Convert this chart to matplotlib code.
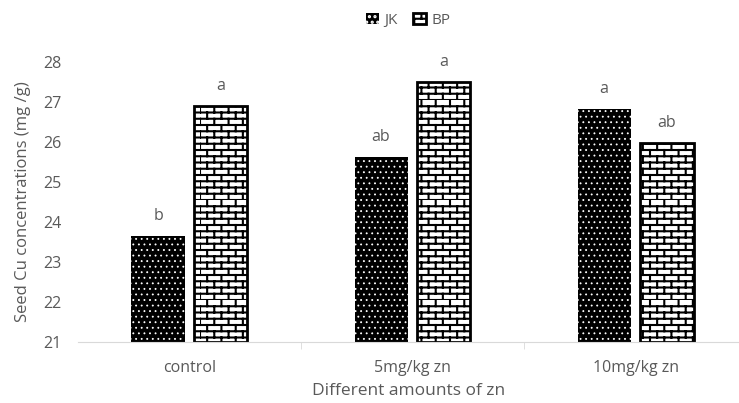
import numpy as np
import matplotlib
matplotlib.use('Agg')
import matplotlib.pyplot as plt
import matplotlib.hatch as mhatch
from matplotlib.path import Path

groups = ['control', '5mg/kg zn', '10mg/kg zn']
jk = [23.65, 25.62, 26.83]
bp = [26.9, 27.5, 25.97]
jk_letters = ['b', 'ab', 'a']
bp_letters = ['a', 'a', 'ab']
yticks = [21, 22, 23, 24, 25, 26, 27, 28]


# brick hatch, hooked onto the 'O' character (replaces the big circles)
class BrickHatch(mhatch.HatchPatternBase):
    def __init__(self, hatch, density):
        self.rows = 16 if 'O' in hatch else 0
        self.cols = 7
        self.num_vertices = self.rows * 2 + self.rows * self.cols * 2

    def set_vertices_and_codes(self, vertices, codes):
        n = 0
        for i in range(self.rows):
            y0 = i / self.rows
            y1 = (i + 1) / self.rows
            vertices[n] = (0, y0); vertices[n + 1] = (1, y0)
            codes[n] = Path.MOVETO; codes[n + 1] = Path.LINETO
            n += 2
            for k in range(self.cols):
                x = (k + 0.5 * (i % 2)) / self.cols
                vertices[n] = (x, y0); vertices[n + 1] = (x, y1)
                codes[n] = Path.MOVETO; codes[n + 1] = Path.LINETO
                n += 2


mhatch._hatch_types = [t for t in mhatch._hatch_types if t is not mhatch.LargeCircles]
mhatch._hatch_types.append(BrickHatch)

plt.rcParams['font.family'] = ['Liberation Sans Narrow', 'Open Sans', 'DejaVu Sans']
grey = '#595959'

fig = plt.figure(figsize=(7.39, 4.03), dpi=100)
ax = fig.add_axes([0.1055, 0.151, 1 - 0.1055, 0.695])

x = np.arange(len(groups))
w = 0.238
off = 0.141

plt.rcParams['hatch.linewidth'] = 0.6
b1 = ax.bar(x - off, np.array(jk) - 21, w, bottom=21, color='black',
            edgecolor='white', linewidth=0, hatch='...', label='JK')
plt.rcParams['hatch.linewidth'] = 1.5
b2 = ax.bar(x + off, np.array(bp) - 21, w, bottom=21, color='white',
            edgecolor='black', linewidth=2, hatch='O', label='BP')
for p in b1:
    if hasattr(p, 'set_hatch_linewidth'):
        p.set_hatch_linewidth(0.6)
for p in b2:
    if hasattr(p, 'set_hatch_linewidth'):
        p.set_hatch_linewidth(1.5)

for xi, v, t in zip(x - off, jk, jk_letters):
    ax.text(xi, v + 0.3, t, ha='center', va='bottom', color=grey, fontsize=11.5)
for xi, v, t in zip(x + off, bp, bp_letters):
    ax.text(xi, v + 0.3, t, ha='center', va='bottom', color=grey, fontsize=11.5)

ax.set_ylim(21, 28)
ax.set_xlim(-0.5, 2.464)
ax.set_yticks(yticks)
ax.set_xticks(x)
ax.set_xticklabels(groups)
ax.set_xticks([0.5, 1.5], minor=True)
ax.tick_params(axis='y', length=0, pad=12, labelsize=11.5, labelcolor=grey)
ax.tick_params(axis='x', which='major', length=0, pad=13, labelsize=11.5, labelcolor=grey)
ax.tick_params(axis='x', which='minor', length=5, color='#d9d9d9')
for s in ['top', 'right', 'left']:
    ax.spines[s].set_visible(False)
ax.spines['bottom'].set_color('#d9d9d9')

ax.set_xlabel('Different amounts of zn', fontsize=12.5, color=grey, labelpad=5)
ax.set_ylabel('Seed Cu concentrations (mg /g)', fontsize=12, color=grey, labelpad=9)

ax.legend(loc='upper center', bbox_to_anchor=(0.5, 1.225), ncol=2, frameon=False,
          fontsize=11, labelcolor=grey, handlelength=0.8, handleheight=0.8,
          handletextpad=0.4, columnspacing=1.0)

fig.savefig('out.png', dpi=100)
